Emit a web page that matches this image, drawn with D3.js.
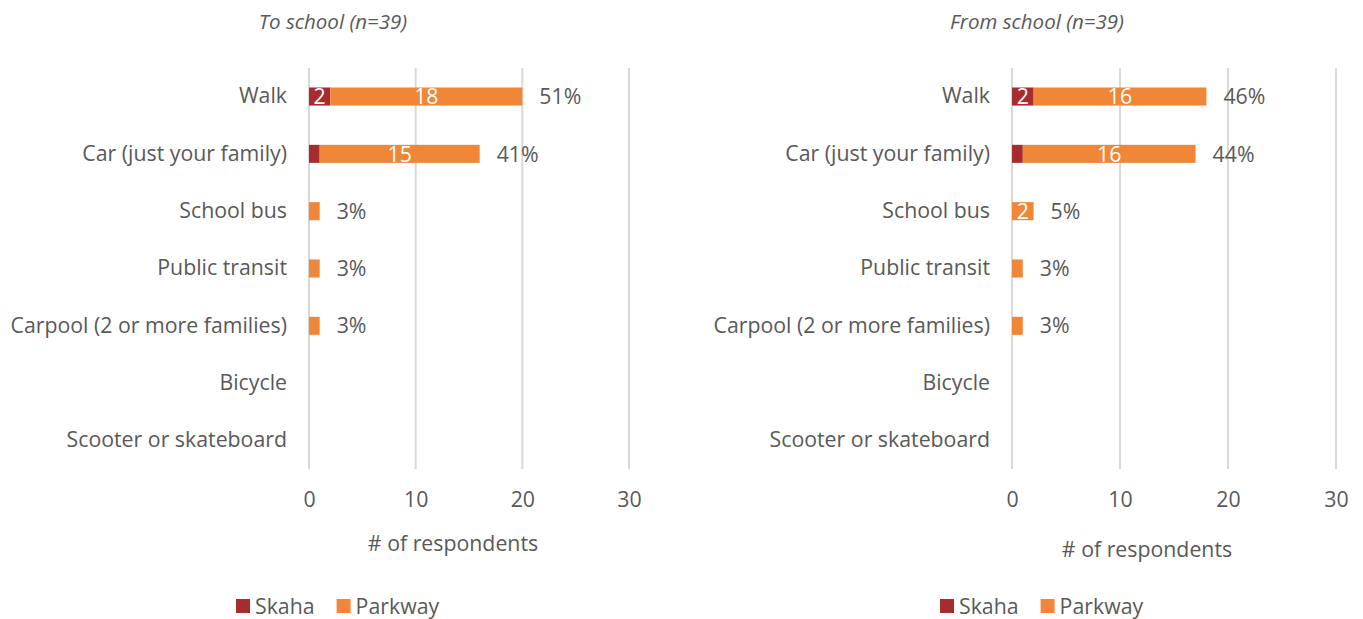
<!DOCTYPE html>
<html>
<head>
<meta charset="utf-8">
<script src="https://cdn.jsdelivr.net/npm/d3@7"></script>
<style>
  html, body { margin: 0; padding: 0; background: #fff; }
  svg { display: block; font-family: "Open Sans", sans-serif; }
</style>
</head>
<body>
<svg id="chart" width="1363" height="619"></svg>
<script>
// Travel modes, top to bottom
const modes = ["Walk", "Car (just your family)", "School bus", "Public transit",
  "Carpool (2 or more families)", "Bicycle", "Scooter or skateboard"];
const seriesNames = ["Skaha", "Parkway"];
const seriesColors = ["#A72C2F", "#F08637"];
const xTicks = [0, 10, 20, 30];

// To school
const toSkaha   = [2, 1, 0, 0, 0, 0, 0];
const toParkway = [18, 15, 1, 1, 1, 0, 0];
// From school
const fromSkaha   = [2, 1, 0, 0, 0, 0, 0];
const fromParkway = [16, 16, 2, 1, 1, 0, 0];

const respondents = 39;

const panels = [
  { title: "To school (n=39)", skaha: toSkaha, parkway: toParkway,
    x0: 309, x1: 629, titleX: 333, axisTitleX: 453, axisTitleY: 551, legendX: 236 },
  { title: "From school (n=39)", skaha: fromSkaha, parkway: fromParkway,
    x0: 1012, x1: 1336, titleX: 1037, axisTitleX: 1147, axisTitleY: 557, legendX: 940 }
];

const svg = d3.select("#chart");
const textColor = "#595959";
const fs = "21.3px";
const plotTop = 68, plotBottom = 469;

panels.forEach(p => {
  const g = svg.append("g");
  const x = d3.scaleLinear().domain([0, 30]).range([p.x0, p.x1]);
  const y = d3.scaleBand().domain(modes).range([plotTop, plotBottom]).paddingInner(0.685).paddingOuter(0.34);

  // vertical gridlines
  g.selectAll("line.grid").data(xTicks).join("line")
    .attr("x1", d => x(d)).attr("x2", d => x(d))
    .attr("y1", plotTop).attr("y2", plotBottom)
    .attr("stroke", "#D9D9D9").attr("stroke-width", 2);

  // x tick labels
  const xAxis = d3.axisBottom(x).tickValues(xTicks).tickSize(0).tickPadding(0);
  const xg = g.append("g").attr("transform", `translate(0, ${plotBottom + 23})`).call(xAxis);
  xg.select(".domain").remove();
  xg.selectAll("text").attr("fill", textColor).style("font-size", fs)
    .style("font-family", "'Open Sans', sans-serif");

  // category labels
  const yAxis = d3.axisLeft(y).tickSize(0).tickPadding(22);
  const yg = g.append("g").attr("transform", `translate(${p.x0}, 0)`).call(yAxis);
  yg.select(".domain").remove();
  yg.selectAll("text").attr("fill", textColor).style("font-size", fs)
    .style("font-family", "'Open Sans', sans-serif");

  const rows = modes.map((m, i) => ({ mode: m, skaha: p.skaha[i], parkway: p.parkway[i] }));
  const stacked = d3.stack().keys(["skaha", "parkway"])(rows);

  stacked.forEach((layer, li) => {
    const lg = g.append("g");
    lg.selectAll("rect").data(layer.filter(d => d[1] > d[0])).join("rect")
      .attr("x", d => x(d[0]))
      .attr("width", d => x(d[1]) - x(d[0]))
      .attr("y", d => y(d.data.mode))
      .attr("height", y.bandwidth())
      .attr("fill", seriesColors[li]);
    lg.selectAll("text").data(layer.filter(d => d[1] - d[0] >= 2)).join("text")
      .attr("x", d => (x(d[0]) + x(d[1])) / 2)
      .attr("y", d => y(d.data.mode) + y.bandwidth() / 2)
      .attr("dy", "0.36em")
      .attr("text-anchor", "middle")
      .attr("fill", "#fff")
      .style("font-size", fs)
      .text(d => d[1] - d[0]);
  });

  // share of respondents at bar end
  g.selectAll("text.pct").data(rows.filter(r => r.skaha + r.parkway > 0)).join("text")
    .attr("class", "pct")
    .attr("x", r => x(r.skaha + r.parkway) + 17)
    .attr("y", r => y(r.mode) + y.bandwidth() / 2)
    .attr("dy", "0.36em")
    .attr("fill", textColor)
    .style("font-size", fs)
    .text(r => Math.round((r.skaha + r.parkway) / respondents * 100) + "%");

  // panel title
  g.append("text").attr("x", p.titleX).attr("y", 29)
    .attr("text-anchor", "middle").attr("fill", textColor)
    .style("font-size", "20.5px").style("font-style", "italic")
    .text(p.title);

  // axis title
  g.append("text").attr("x", p.axisTitleX).attr("y", p.axisTitleY)
    .attr("text-anchor", "middle").attr("fill", textColor)
    .style("font-size", fs)
    .text("# of respondents");

  // legend
  const leg = g.append("g").attr("transform", `translate(${p.legendX}, 606)`);
  let lx = 0;
  seriesNames.forEach((name, i) => {
    leg.append("rect").attr("x", lx).attr("y", -7).attr("width", 14).attr("height", 14)
      .attr("fill", seriesColors[i]);
    const t = leg.append("text").attr("x", lx + 19).attr("y", 0).attr("dy", "0.36em")
      .attr("fill", textColor).style("font-size", fs).text(name);
    lx += 19 + t.node().getComputedTextLength() + 22;
  });
});
</script>
</body>
</html>
